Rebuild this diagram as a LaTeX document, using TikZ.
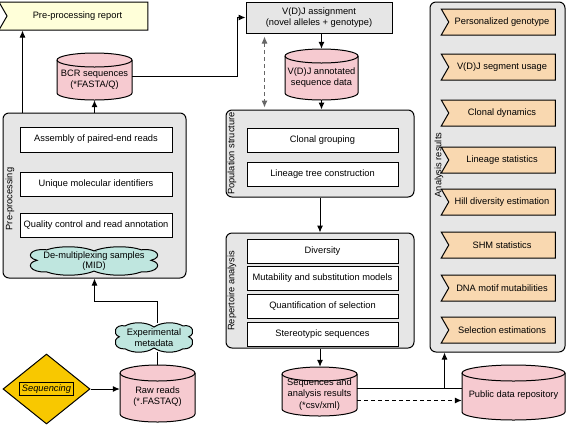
\documentclass[tikz,border=0pt]{standalone}
\usepackage{fontspec}
\setmainfont{Liberation Sans}
\usetikzlibrary{arrows.meta,calc,shapes.geometric,shapes.symbols}
\definecolor{grayfill}{HTML}{E6E6E6}
\definecolor{pinkfill}{HTML}{F6CAD0}
\definecolor{tealfill}{HTML}{BFE6DF}
\definecolor{yellowfill}{HTML}{FFFFD9}
\definecolor{peachfill}{HTML}{F9D8B0}
\definecolor{goldfill}{HTML}{F8C800}
\setlength\fboxrule{1pt}
\setlength\fboxsep{2pt}
\newcommand\cylnode[7]{%
  \pgfmathsetmacro\crx{#4/2}%
  \filldraw[cylstyle] (#2-\crx, #3-#5/2+#6) -- (#2-\crx, #3+#5/2-#6)
    arc[start angle=180, end angle=360, x radius=\crx pt, y radius=#6pt]
    -- (#2+\crx, #3-#5/2+#6)
    arc[start angle=0, end angle=180, x radius=\crx pt, y radius=#6pt] -- cycle;
  \draw[cylstyle, fill=none] (#2-\crx, #3-#5/2+#6)
    arc[start angle=180, end angle=360, x radius=\crx pt, y radius=#6pt];
  \node[inner sep=0, minimum width=#4, minimum height=#5,
    label={[cyltext]center:{#7}}] (#1) at (#2,#3) {};
}
% cloud outline: name, cx, cy, half width, half height, text
\newcommand\cloudnode[6]{%
  \filldraw[cloudstyle, shift={(#2,#3)}, xscale=#4, yscale=#5]
    (-0.74,0.78) .. controls (-1.0,0.85) and (-1.08,0.15) .. (-0.89,-0.05)
    .. controls (-1.08,-0.25) and (-1.0,-0.95) .. (-0.74,-0.8)
    .. controls (-0.55,-1.1) and (-0.2,-1.1) .. (0,-0.72)
    .. controls (0.2,-1.1) and (0.55,-1.1) .. (0.74,-0.8)
    .. controls (1.0,-0.95) and (1.08,-0.25) .. (0.89,-0.05)
    .. controls (1.08,0.15) and (1.0,0.85) .. (0.74,0.78)
    .. controls (0.55,1.1) and (0.2,1.1) .. (0,0.72)
    .. controls (-0.2,1.1) and (-0.55,1.1) .. (-0.74,0.78) -- cycle;
  \node[inner sep=0, minimum width=2*#4, minimum height=2*#5, align=center,
    font=\fontsize{9.3}{10.5}\selectfont] (#1) at (#2,#3) {#6};
}
\begin{document}
\begin{tikzpicture}[x=1pt, y=-1pt, font=\fontsize{9.3}{11.5}\selectfont,
  panel/.style={draw, fill=grayfill, rounded corners=6pt, line width=1pt, inner sep=0},
  stepbox/.style={draw, fill=white, line width=1pt, inner sep=0, minimum width=152, minimum height=24, align=center},
  innerbox/.style={draw, fill=white, line width=1pt, inner sep=0, minimum width=151, minimum height=24, align=center},
  cylstyle/.style={draw, fill=pinkfill, line width=1pt},
  cloudstyle/.style={draw, fill=tealfill, line width=1pt},
  cyltext/.style={align=center, yshift=-3pt},
  banner/.style={signal, signal to=nowhere, signal from=west, signal pointer angle=120, draw, line width=1pt, inner sep=0, minimum width=114, minimum height=26, fill=peachfill},
  vlabel/.style={rotate=90, inner sep=0},
  arr/.style={-{Latex[length=7pt,width=6pt]}, line width=1pt},
  plain/.style={line width=1pt},
  darr/.style={{Latex[length=7pt,width=6pt]}-{Latex[length=7pt,width=6pt]}, line width=1pt, draw=black!60, dash pattern=on 4pt off 3pt}
]
\useasboundingbox (0,0) rectangle (567,424);

% ---- panels
\node[panel, minimum width=183, minimum height=165] (pre) at (94.5,195.5) {};
\node[panel, minimum width=188, minimum height=87] (pop) at (320,153.5) {};
\node[panel, minimum width=188, minimum height=115] (rep) at (320,290.5) {};
\node[panel, minimum width=135, minimum height=350] (ana) at (497.5,177) {};

% ---- left column
\node[banner, fill=yellowfill, minimum width=149, minimum height=28] (report) at (77.5,16) {Pre-processing report};
\cylnode{bcr}{94.5}{76.5}{75}{47}{7}{BCR sequences\\(*FASTA/Q)}
\node[stepbox, minimum height=25] (asm) at (96,139.5) {Assembly of paired-end reads};
\node[stepbox] (umi) at (96,184) {Unique molecular identifiers};
\node[stepbox] (qc) at (96,225) {Quality control and read annotation};
\cloudnode{demux}{94}{261}{64}{14}{De-multiplexing samples\\(MID)}
\node[vlabel] (lpre) at (10,199) {Pre-processing};
\cloudnode{meta}{154}{337.5}{39}{14.5}{Experimental\\metadata}
\cylnode{raw}{157.5}{393.5}{75}{57}{8}{Raw reads\\(*.FASTAQ)}
\node[diamond, draw, fill=goldfill, line width=1pt, aspect=1.25, minimum width=87, minimum height=70, inner sep=0] (dia) at (46.5,389) {\fbox{\itshape Sequencing}};

% ---- middle column
\node[draw, fill=grayfill, line width=1pt, minimum width=146, minimum height=31, align=center, inner sep=0] (vdj) at (319,17.5) {V(D)J assignment\\(novel alleles + genotype)};
\cylnode{ann}{321.5}{74.5}{73}{51}{7}{V(D)J annotated\\sequence data}
\node[innerbox] (clon) at (322.5,140) {Clonal grouping};
\node[innerbox] (lin) at (322.5,174) {Lineage tree construction};
\node[vlabel] (lpop) at (232,153.5) {Population structure};
\node[innerbox] (div) at (322.5,251) {Diversity};
\node[innerbox] (mut) at (322.5,278) {Mutability and substitution models};
\node[innerbox] (qua) at (322.5,306) {Quantification of selection};
\node[innerbox] (ste) at (322.5,334) {Stereotypic sequences};
\node[vlabel] (lrep) at (232,291) {Repertoire analysis};
\cylnode{seq}{319.5}{391.5}{75}{49}{7}{Sequences and\\analysis results\\(*csv/xml)}

% ---- right column
\node[vlabel] (lana) at (439,165) {Analysis results};
\node[banner] (b1) at (502,22) {Personalized genotype};
\node[banner] (b2) at (502,67) {V(D)J segment usage};
\node[banner] (b3) at (502,113) {Clonal dynamics};
\node[banner] (b4) at (502,160) {Lineage statistics};
\node[banner] (b5) at (502,202) {Hill diversity estimation};
\node[banner] (b6) at (502,245) {SHM statistics};
\node[banner] (b7) at (502,288) {DNA motif mutabilities};
\node[banner] (b8) at (502,330) {Selection estimations};
\cylnode{pub}{513.5}{392.5}{103}{55}{8}{Public data repository}

% ---- connectors
\coordinate (p1) at ($(pre.north west)+(20,0)$);
\draw[arr] (p1) -- (p1 |- report.south);
\draw[arr] (pre.north -| bcr.south) -- (bcr.south);
\draw[arr] (bcr.east) -| ($(vdj.west)+(-8,0)$) -- (vdj.west);
\draw[arr] (raw.north |- meta.north) -- ++(0,-21) -| (pre.south);
\draw[plain] (raw.north |- meta.south) -- (raw.north);
\draw[arr] (dia.east) -- (dia.east -| raw.west);
\draw[arr] (vdj.south -| ann.north) -- (ann.north);
\draw[arr] (ann.south) -- (ann.south |- pop.north);
\coordinate (d1) at ($(vdj.south west)+(19,0)$);
\draw[darr, shorten <=3pt, shorten >=2pt] (d1) -- (d1 |- pop.north);
\draw[arr] (pop.south) -- (rep.north);
\draw[arr] (rep.south) -- (rep.south |- seq.north);
\coordinate (s1) at ($(seq.east)+(0,-3)$);
\coordinate (s2) at ($(seq.east)+(0,9)$);
\coordinate (a1) at ($(ana.south west)+(15,0)$);
\draw[plain] (s1) -- (s1 -| pub.west);
\draw[arr] (s1 -| a1) -- (a1);
\draw[arr, dash pattern=on 4pt off 3pt] (s2) -- (s2 -| pub.west);
\end{tikzpicture}
\end{document}
